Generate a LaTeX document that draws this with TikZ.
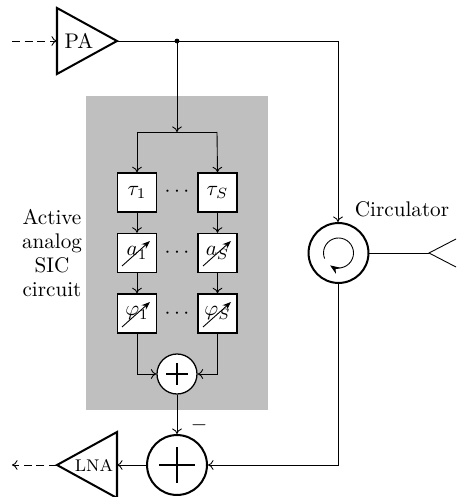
\documentclass[tikz,border=0pt]{standalone}
\usetikzlibrary{arrows.meta}
\tikzset{
  px/.style={x=0.4724pt,y=-0.4724pt},
  conn/.style={line width=0.42pt,-{Computer Modern Rightarrow[length=2.6pt,width=4.6pt]}},
  plain/.style={line width=0.42pt},
  thickline/.style={line width=0.95pt},
  dashline/.style={dash pattern=on 3.8pt off 2.2pt},
  blockbox/.style={draw,fill=white,line width=0.7pt,minimum size=18.4pt,inner sep=0pt},
  tunearrow/.style={line width=0.42pt,-{Stealth[length=4pt,width=3pt]}},
  smallsum/.style={circle,draw,fill=white,line width=0.6pt,minimum size=18.9pt,inner sep=0pt},
  bigsum/.style={circle,draw,fill=white,thickline,minimum size=28.3pt,inner sep=0pt},
  amp/.style={draw,thickline,line join=miter,fill=white},
  lbl/.style={inner sep=0pt},
}
\begin{document}
\begin{tikzpicture}[px]
\useasboundingbox (0,0) rectangle (456,497);
\fill[black!25] (86,96) rectangle (268,410);

% named points
\coordinate (pain) at (12,41);
\coordinate (pal) at (57,41);
\coordinate (paout) at (117,41);
\coordinate (tap) at (177,41);
\coordinate (corner) at (338,41);
\coordinate (split) at (177,132);
\coordinate (splitl) at (137,132);
\coordinate (splitr) at (217,132);
\coordinate (lnatip) at (57,465);
\coordinate (lnaright) at (117,465);
\coordinate (lnaout) at (12,465);
\coordinate (corner2) at (338,465);
\coordinate (ant) at (429,253);

% blocks
\node[blockbox] (t1) at (137,192.5) {$\tau_1$};
\node[blockbox] (tS) at (217.5,192.5) {$\tau_S$};
\node[blockbox] (a1) at (137,253) {$a_1$};
\node[blockbox] (aS) at (217.5,253) {$a_S$};
\node[blockbox] (p1) at (137,313.5) {$\varphi_1$};
\node[blockbox] (pS) at (217.5,313.5) {$\varphi_S$};
\node[lbl] (d1) at (177,192) {$\cdots$};
\node[lbl] (d2) at (177,253) {$\cdots$};
\node[lbl] (d3) at (177,314) {$\cdots$};

% tunable arrows
\draw[tunearrow] (122,266) -- (150,241);
\draw[tunearrow] (203,266) -- (231,241);
\draw[tunearrow] (122,327) -- (150,302);
\draw[tunearrow] (203,327) -- (231,302);

% sums
\node[smallsum] (ss) at (177,374) {};
\draw[line width=0.6pt] (166,374) -- (188,374) (177,363) -- (177,385);
\node[bigsum] (bs) at (177,465) {};
\draw[line width=0.95pt] (159,465) -- (195,465) (177,447) -- (177,483);

% circulator
\node[bigsum] (circ) at (338.5,253) {};
\draw[line width=0.42pt,-{Stealth[length=4.5pt,width=3.5pt]}] (324.6,258.6) arc[start angle=158,end angle=484,radius=15];

% amplifiers
\draw[amp] (57,8) -- (117,41) -- (57,74) -- cycle;
\draw[amp] (117,432) -- (57,465) -- (117,498) -- cycle;
\node[lbl] (palabel) at (79,41) {PA};
\node[lbl] (lnalabel) at (94,465.5) {\footnotesize LNA};

% labels
\node[lbl] (circlabel) at (402,209) {Circulator};
\node[lbl,align=center,text width=90pt,font=\fontsize{10}{11.3}\selectfont] (siclabel) at (52,253) {Active\\analog\\SIC\\circuit};
\node[lbl] (minus) at (199,425) {$-$};

% connectors
\draw[conn,dashline] (pain) -- (pal);
\draw[plain] (paout) -- (corner);
\draw[conn] (corner) -- (circ.north -| corner);
\fill (tap) circle[radius=2.4];
\draw[conn] (tap) -- (split);
\draw[plain] (splitl) -- (splitr);
\draw[conn] (splitl) -- (t1.north);
\draw[conn] (splitr) -- (tS.north);
\draw[conn] (t1) -- (a1);
\draw[conn] (tS) -- (aS);
\draw[conn] (a1) -- (p1);
\draw[conn] (aS) -- (pS);
\draw[conn] (p1.south) |- (ss.west);
\draw[conn] (pS.south) |- (ss.east);
\draw[conn] (ss) -- (bs);
\draw[conn] (bs.west) -- (lnaright);
\draw[conn] (circ.south -| corner2) -- (corner2) -- (bs.east);
\draw[conn,dashline] (lnatip) -- (lnaout);
\draw[plain] (circ.east) -- (ant);
\draw[plain] (456,239) -- (ant) -- (456,267);
\end{tikzpicture}
\end{document}
